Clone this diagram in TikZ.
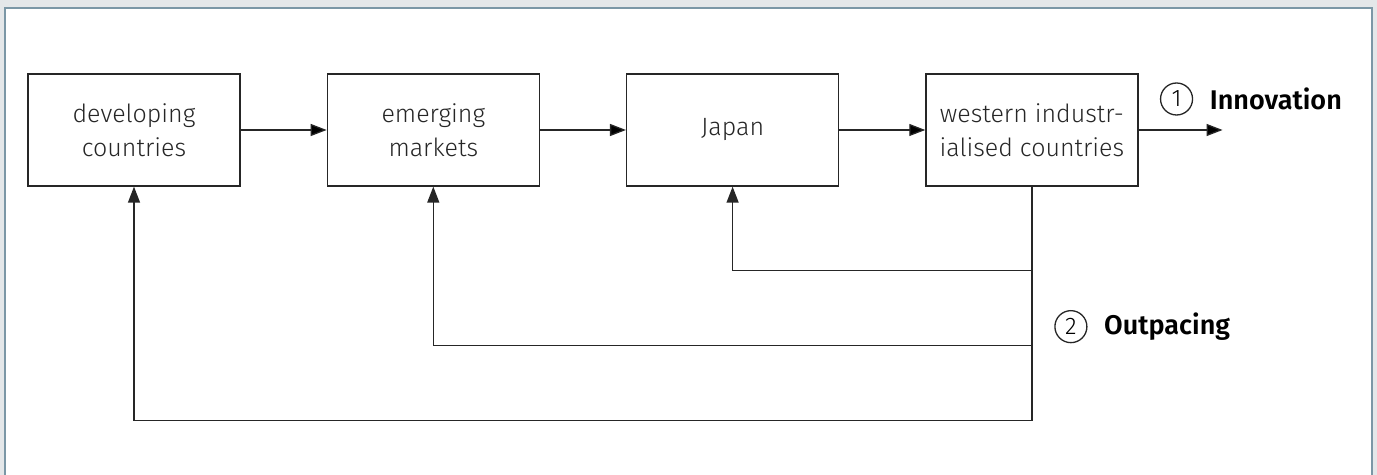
\documentclass[tikz,border=0pt]{standalone}
\usepackage{fontspec}
\setmainfont{Fira Sans Light}[BoldFont={Fira Sans SemiBold}]
\usetikzlibrary{calc,arrows.meta,positioning}
\definecolor{framegrey}{HTML}{E4E7E9}
\definecolor{frameblue}{HTML}{7B97A6}
\definecolor{linegrey}{HTML}{262626}

\begin{document}
\begin{tikzpicture}[>={Triangle[length=8pt,width=6pt]},node distance=43pt,line width=0.65pt,
  box/.style={draw=linegrey,minimum width=106pt,minimum height=56pt,align=center,inner sep=2pt,font=\fontsize{12.5}{17}\selectfont,text=linegrey},
  num/.style={draw=linegrey,circle,minimum size=16pt,inner sep=0pt,font=\fontsize{12}{12}\selectfont},
  lbl/.style={font=\fontsize{13.5}{13.5}\selectfont\bfseries,inner sep=0pt}]

  % frame
  \useasboundingbox (0,0) rectangle (688.5pt,-237.5pt);
  \fill[framegrey] (0,0) rectangle (688.5pt,-237.5pt);
  \draw[frameblue,fill=white,line width=1.25pt] (2.5pt,-4pt) rectangle (686pt,-250pt);

  \node[box] (dev) at (67pt,-65pt) {developing\\countries};
  \node[box] (emer) [right =of dev] {emerging\\markets};
  \node[box] (japan) [right =of emer] {Japan};
  \node[box] (west) [right =of japan] {western industr-\\ialised countries};
  \coordinate[right =42pt of west] (out);

  \node[num] (n1) at ($(west.east)+(19pt,15.5pt)$) {1};
  \node[lbl] (inno) [right =8pt of n1] {Innovation};
  \node[num] (n2) at ($(west.south)+(19.5pt,-70pt)$) {2};
  \node[lbl] (outp) [right =8pt of n2] {Outpacing};

  \path[->,draw=linegrey]
    (dev) edge (emer)
    (emer) edge (japan)
    (japan) edge (west)
    (west) edge (out);

  % feedback lines
  \draw[->,linegrey] (west.south) -- ++(0,-42pt) -| (japan.south);
  \draw[->,linegrey] (west.south) -- ++(0,-79.5pt) -| (emer.south);
  \draw[->,linegrey] (west.south) -- ++(0,-117pt) -| (dev.south);

\end{tikzpicture}
\end{document}
